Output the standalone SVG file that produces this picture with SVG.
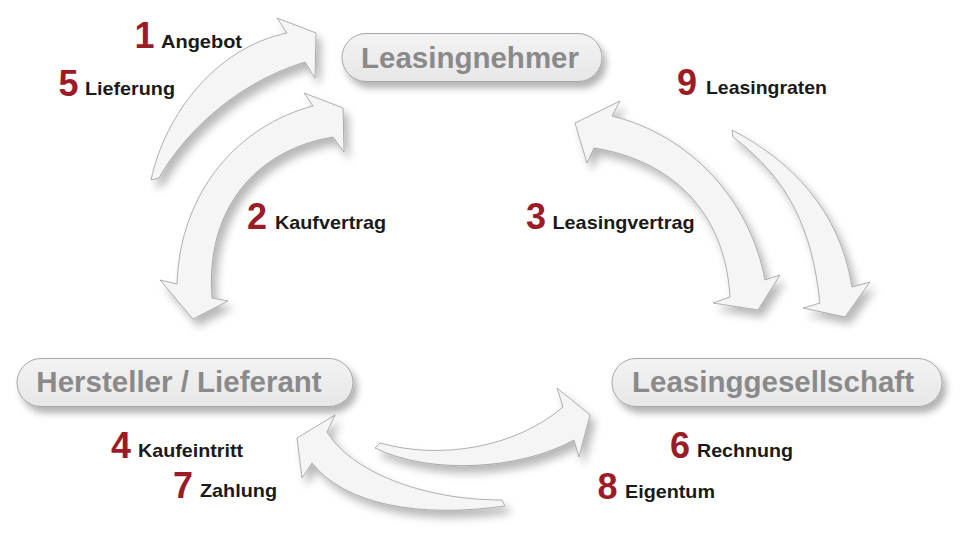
<svg xmlns="http://www.w3.org/2000/svg" width="980" height="552" viewBox="0 0 980 552">
<defs>
<filter id="sh" x="-30%" y="-30%" width="160%" height="160%">
<feDropShadow dx="5" dy="7" stdDeviation="4" flood-color="#000" flood-opacity="0.28"/>
</filter>
<filter id="sh2" x="-20%" y="-40%" width="140%" height="190%">
<feDropShadow dx="4" dy="6" stdDeviation="3.5" flood-color="#000" flood-opacity="0.3"/>
</filter>
<linearGradient id="pg" x1="0" y1="0" x2="0" y2="1">
<stop offset="0" stop-color="#f3f3f3"/>
<stop offset="1" stop-color="#e7e7e7"/>
</linearGradient>
<style>
.arrow{fill:#f5f5f5;stroke:#9c9c9c;stroke-width:0.8;stroke-linejoin:miter;filter:url(#sh)}
.pill{fill:url(#pg);stroke:#a6a6a6;stroke-width:1;filter:url(#sh2)}
.nt{font-family:"Liberation Sans",Arial,sans-serif;font-weight:bold;font-size:29.5px;fill:#8a8a8a;text-anchor:middle}
.num{font-family:"Liberation Sans",Arial,sans-serif;font-weight:bold;font-size:36px;fill:#9b1b26;text-anchor:middle}
.lbl{font-family:"Liberation Sans",Arial,sans-serif;font-weight:bold;font-size:18.5px;fill:#1a1a1a}
</style>
</defs>
<rect width="980" height="552" fill="#fff"/>
<g id="connectors">
<path id="arrow-angebot" class="arrow" d="M151,180 L159,178 C180,140 230,85 305,62 L315,78 L316,33 L277,18 L287,33 C215,48 165,115 151,180 Z"/>
<path id="arrow-kaufvertrag" class="arrow" d="M313,106 L304,93 L343,108 L344,152 L333,137 C255,150 205,210 212,298 L228,301 L193,319 L160,280 L177,284 C180,190 240,125 313,106 Z"/>
<path id="arrow-leasingvertrag" class="arrow" d="M612,116 L620,101 L575,123 L587,163 L594,148 C670,160 725,210 730,297 L713,303 L758,310 L780,275 L765,280 C750,200 690,135 612,116 Z"/>
<path id="arrow-leasingraten" class="arrow" d="M732,130 C790,160 840,210 852,287 L870,282 L845,317 L803,308 L820,303 C812,230 790,180 733,137 Z"/>
<path id="arrow-rechnung" class="arrow" d="M380,443 C440,460 515,448 563,407 L557,388 L590,415 L579,457 L574,440 C520,470 430,475 375,448 Z"/>
<path id="arrow-zahlung" class="arrow" d="M327,432 L335,415 L297,438 L302,478 L312,463 C345,505 420,518 505,506 L502,500 C420,500 350,470 327,432 Z"/>
</g>
<g id="node-leasingnehmer">
<rect class="pill" x="342" y="33.5" width="260" height="48" rx="24"/>
<text class="nt" x="470" y="68">Leasingnehmer</text>
</g>
<g id="node-hersteller">
<rect class="pill" x="17" y="358.5" width="336" height="48" rx="24"/>
<text class="nt" x="179" y="392">Hersteller / Lieferant</text>
</g>
<g id="node-leasinggesellschaft">
<rect class="pill" x="612" y="358.5" width="330" height="48" rx="24"/>
<text class="nt" x="773" y="392">Leasinggesellschaft</text>
</g>
<g id="labels">
<text class="num" x="144.5" y="48">1</text>
<text class="lbl" x="161" y="47.5" textLength="81" lengthAdjust="spacingAndGlyphs">Angebot</text>
<text class="num" x="68.5" y="95.5">5</text>
<text class="lbl" x="85" y="95" textLength="90" lengthAdjust="spacingAndGlyphs">Lieferung</text>
<text class="num" x="257" y="228.5">2</text>
<text class="lbl" x="275" y="228.5" textLength="111" lengthAdjust="spacingAndGlyphs">Kaufvertrag</text>
<text class="num" x="536" y="228.5">3</text>
<text class="lbl" x="552.5" y="228.5" textLength="142" lengthAdjust="spacingAndGlyphs">Leasingvertrag</text>
<text class="num" x="687" y="94.5">9</text>
<text class="lbl" x="706" y="93.5" textLength="121" lengthAdjust="spacingAndGlyphs">Leasingraten</text>
<text class="num" x="121" y="457.5">4</text>
<text class="lbl" x="138" y="456.5" textLength="105" lengthAdjust="spacingAndGlyphs">Kaufeintritt</text>
<text class="num" x="183" y="497.5">7</text>
<text class="lbl" x="200" y="497" textLength="77" lengthAdjust="spacingAndGlyphs">Zahlung</text>
<text class="num" x="680" y="458">6</text>
<text class="lbl" x="697" y="457" textLength="96" lengthAdjust="spacingAndGlyphs">Rechnung</text>
<text class="num" x="607.5" y="499">8</text>
<text class="lbl" x="625" y="498" textLength="90" lengthAdjust="spacingAndGlyphs">Eigentum</text>
</g>
</svg>
